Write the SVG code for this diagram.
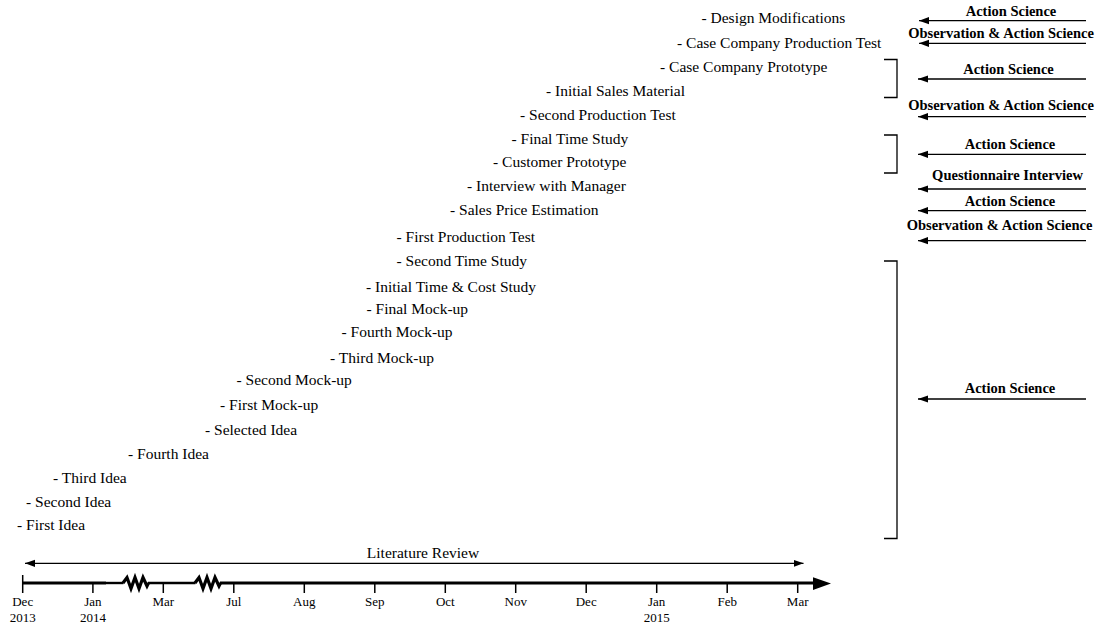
<svg xmlns="http://www.w3.org/2000/svg" width="1101" height="626" viewBox="0 0 1101 626">
  <style>
    .item { font-family: "Liberation Serif", "Times New Roman", serif; font-size: 15.5px; fill: #000; }
    .method { font-family: "Liberation Serif", "Times New Roman", serif; font-size: 14.5px; font-weight: bold; fill: #000; text-anchor: middle; }
    .month { font-family: "Liberation Serif", "Times New Roman", serif; font-size: 13px; fill: #000; text-anchor: middle; }
    .conn { stroke: #000; stroke-width: 1.3; fill: none; }
    .bracket { stroke: #000; stroke-width: 1.3; fill: none; }
    .tick { stroke: #000; stroke-width: 1.5; }
    .axis { stroke: #000; stroke-width: 3.2; fill: none; }
    .axis-thin { stroke: #000; stroke-width: 2.4; fill: none; }
  </style>
  <defs>
    <marker id="head" markerUnits="userSpaceOnUse" markerWidth="11" markerHeight="8" refX="10" refY="4" orient="auto-start-reverse">
      <path d="M0,0.4 L10,4 L0,7.6 Z" fill="#000"/>
    </marker>
  </defs>
  <rect width="1101" height="626" fill="#fff"/>

  <!-- project milestones -->
  <g id="design-modifications"><text class="item" x="701.5" y="23.3">- Design Modifications</text></g>
  <g id="case-company-production-test"><text class="item" x="677" y="48">- Case Company Production Test</text></g>
  <g id="case-company-prototype"><text class="item" x="660" y="71.7">- Case Company Prototype</text></g>
  <g id="initial-sales-material"><text class="item" x="546" y="96">- Initial Sales Material</text></g>
  <g id="second-production-test"><text class="item" x="520" y="119.5">- Second Production Test</text></g>
  <g id="final-time-study"><text class="item" x="511.5" y="143.5">- Final Time Study</text></g>
  <g id="customer-prototype"><text class="item" x="493" y="167.3">- Customer Prototype</text></g>
  <g id="interview-with-manager"><text class="item" x="467" y="191">- Interview with Manager</text></g>
  <g id="sales-price-estimation"><text class="item" x="450" y="215">- Sales Price Estimation</text></g>
  <g id="first-production-test"><text class="item" x="396.5" y="242">- First Production Test</text></g>
  <g id="second-time-study"><text class="item" x="396.5" y="266">- Second Time Study</text></g>
  <g id="initial-time-cost-study"><text class="item" x="366" y="291.5">- Initial Time &amp; Cost Study</text></g>
  <g id="final-mock-up"><text class="item" x="366.5" y="313.5">- Final Mock-up</text></g>
  <g id="fourth-mock-up"><text class="item" x="341.5" y="337">- Fourth Mock-up</text></g>
  <g id="third-mock-up"><text class="item" x="330" y="362.5">- Third Mock-up</text></g>
  <g id="second-mock-up"><text class="item" x="236.5" y="385">- Second Mock-up</text></g>
  <g id="first-mock-up"><text class="item" x="220" y="409.5">- First Mock-up</text></g>
  <g id="selected-idea"><text class="item" x="205" y="435">- Selected Idea</text></g>
  <g id="fourth-idea"><text class="item" x="128" y="459">- Fourth Idea</text></g>
  <g id="third-idea"><text class="item" x="53" y="483">- Third Idea</text></g>
  <g id="second-idea"><text class="item" x="26" y="507">- Second Idea</text></g>
  <g id="first-idea"><text class="item" x="17" y="530">- First Idea</text></g>

  <!-- research methods -->
  <g id="method-1"><text class="method" x="1011" y="15.5">Action Science</text></g>
  <g id="method-2"><text class="method" x="1001" y="37.5">Observation &amp; Action Science</text></g>
  <g id="method-3"><text class="method" x="1008.5" y="74">Action Science</text></g>
  <g id="method-4"><text class="method" x="1001" y="109.5">Observation &amp; Action Science</text></g>
  <g id="method-5"><text class="method" x="1010" y="149.3">Action Science</text></g>
  <g id="method-6"><text class="method" x="1007.5" y="179.5">Questionnaire Interview</text></g>
  <g id="method-7"><text class="method" x="1010" y="205.7">Action Science</text></g>
  <g id="method-8"><text class="method" x="999.5" y="230">Observation &amp; Action Science</text></g>
  <g id="method-9"><text class="method" x="1010" y="393.3">Action Science</text></g>

  <!-- brackets grouping milestones -->
  <g id="brackets">
    <path class="bracket" d="M884,59.5 H897 V97.5 H884"/>
    <path class="bracket" d="M884,135 H897 V173 H884"/>
    <path class="bracket" d="M884,261 H897 V538.5 H884"/>
  </g>

  <!-- connectors -->
  <g id="connectors">
    <line class="conn" x1="1086" y1="20.7" x2="919" y2="20.7" marker-end="url(#head)"/>
    <line class="conn" x1="1086" y1="43.3" x2="919" y2="43.3" marker-end="url(#head)"/>
    <line class="conn" x1="1086" y1="79" x2="918" y2="79" marker-end="url(#head)"/>
    <line class="conn" x1="1086" y1="116.7" x2="918" y2="116.7" marker-end="url(#head)"/>
    <line class="conn" x1="1086" y1="154.3" x2="918" y2="154.3" marker-end="url(#head)"/>
    <line class="conn" x1="1086" y1="189" x2="918" y2="189" marker-end="url(#head)"/>
    <line class="conn" x1="1086" y1="210.7" x2="918" y2="210.7" marker-end="url(#head)"/>
    <line class="conn" x1="1086" y1="240.7" x2="918" y2="240.7" marker-end="url(#head)"/>
    <line class="conn" x1="1086" y1="399" x2="918" y2="399" marker-end="url(#head)"/>
    <!-- literature review span -->
    <line class="conn" x1="25" y1="563.3" x2="803.5" y2="563.3" marker-start="url(#head)" marker-end="url(#head)"/>
  </g>
  <g id="literature-review"><text class="item" x="423" y="558" text-anchor="middle">Literature Review</text></g>

  <!-- time axis -->
  <g id="time-axis">
    <line class="axis" x1="22" y1="583" x2="106" y2="583"/>
    <line class="axis-thin" x1="106" y1="583" x2="123.5" y2="583"/>
    <polyline class="axis" points="123,583 127,577.5 131,588.5 135,577.5 139,588.5 143,577.5 147,586 148.5,583"/>
    <line class="axis-thin" x1="148" y1="583" x2="195.5" y2="583"/>
    <polyline class="axis" points="195,583 199,577.5 203,588.5 207,577.5 211,588.5 215,577.5 219,586 220.5,583"/>
    <line class="axis" x1="220" y1="583" x2="815" y2="583"/>
    <path d="M813,577.2 L831,583.5 L813,590 Z" fill="#000"/>
    <line class="tick" x1="22.7" y1="575" x2="22.7" y2="593"/>
    <line class="tick" x1="92.9" y1="583" x2="92.9" y2="593"/>
    <line class="tick" x1="163.3" y1="583" x2="163.3" y2="593"/>
    <line class="tick" x1="233.8" y1="583" x2="233.8" y2="593"/>
    <line class="tick" x1="304.3" y1="583" x2="304.3" y2="593"/>
    <line class="tick" x1="374.8" y1="583" x2="374.8" y2="593"/>
    <line class="tick" x1="445.3" y1="583" x2="445.3" y2="593"/>
    <line class="tick" x1="515.7" y1="583" x2="515.7" y2="593"/>
    <line class="tick" x1="586.2" y1="583" x2="586.2" y2="593"/>
    <line class="tick" x1="656.7" y1="583" x2="656.7" y2="593"/>
    <line class="tick" x1="727.2" y1="583" x2="727.2" y2="593"/>
    <line class="tick" x1="797.7" y1="583" x2="797.7" y2="593"/>
    <text class="month" x="22.7" y="606">Dec</text>
    <text class="month" x="22.7" y="622">2013</text>
    <text class="month" x="92.9" y="606">Jan</text>
    <text class="month" x="92.9" y="622">2014</text>
    <text class="month" x="163.3" y="606">Mar</text>
    <text class="month" x="233.8" y="606">Jul</text>
    <text class="month" x="304.3" y="606">Aug</text>
    <text class="month" x="374.8" y="606">Sep</text>
    <text class="month" x="445.3" y="606">Oct</text>
    <text class="month" x="515.7" y="606">Nov</text>
    <text class="month" x="586.2" y="606">Dec</text>
    <text class="month" x="656.7" y="606">Jan</text>
    <text class="month" x="656.7" y="622">2015</text>
    <text class="month" x="727.2" y="606">Feb</text>
    <text class="month" x="797.7" y="606">Mar</text>
  </g>
</svg>
